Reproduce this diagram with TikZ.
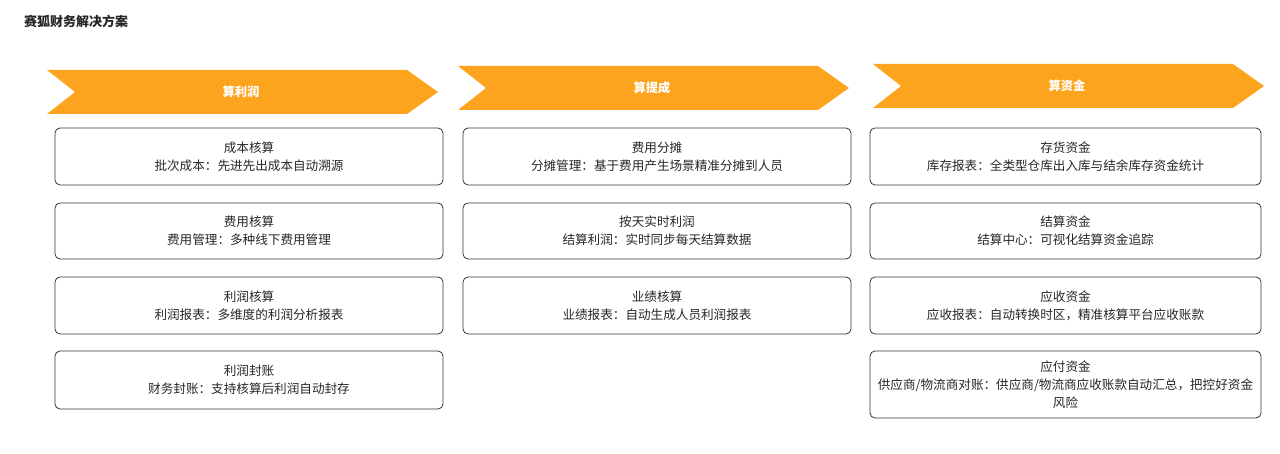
\documentclass[tikz,border=0pt]{standalone}
\usepackage{fontspec}
\setmainfont{Noto Sans CJK SC}
\begin{document}
\begin{tikzpicture}[x=1pt,y=-1pt,
  chev/.style={fill=chevorange,draw=none},
  chevtext/.style={text=white,font=\fontsize{12.3}{14}\selectfont\bfseries},
  card/.style={draw=black!80,line width=0.8pt,rounded corners=5pt},
  cardtext/.style={align=center,font=\fontsize{12.6}{18}\selectfont,text=black!85}]
\definecolor{chevorange}{HTML}{FDA41E}
\useasboundingbox (0,0) rectangle (1280,454);
\node[anchor=west,font=\fontsize{13}{15}\selectfont\bfseries,text=black!85,inner sep=0pt] (title) at (24,21) {赛狐财务解决方案};
% chevrons
\foreach \n/\x/\y/\t in {c1/47/70/算利润, c2/458/66/算提成, c3/873/64/算资金}{
  \fill[chev] (\x,\y) -- (\x+360,\y) -- (\x+391,\y+22) -- (\x+360,\y+44) -- (\x,\y+44) -- (\x+28,\y+22) -- cycle;
  \node[chevtext] (\n) at (\x+194,\y+22) {\t};
}
% cards column 1
\draw[card] (55,128) rectangle (443,185);
\node[cardtext] (a1) at (249,156.5) {成本核算\\批次成本：先进先出成本自动溯源};
\draw[card] (55,203) rectangle (443,259);
\node[cardtext] (a2) at (249,231) {费用核算\\费用管理：多种线下费用管理};
\draw[card] (55,277) rectangle (443,334);
\node[cardtext] (a3) at (249,305.5) {利润核算\\利润报表：多维度的利润分析报表};
\draw[card] (55,351) rectangle (443,409);
\node[cardtext] (a4) at (249,380) {利润封账\\财务封账：支持核算后利润自动封存};
% column 2
\draw[card] (463,128) rectangle (851,185);
\node[cardtext] (b1) at (657,156.5) {费用分摊\\分摊管理：基于费用产生场景精准分摊到人员};
\draw[card] (463,203) rectangle (851,259);
\node[cardtext] (b2) at (657,231) {按天实时利润\\结算利润：实时同步每天结算数据};
\draw[card] (463,277) rectangle (851,334);
\node[cardtext] (b3) at (657,305.5) {业绩核算\\业绩报表：自动生成人员利润报表};
% column 3
\draw[card] (870,128) rectangle (1261,185);
\node[cardtext] (d1) at (1065.5,156.5) {存货资金\\库存报表：全类型仓库出入库与结余库存资金统计};
\draw[card] (870,203) rectangle (1261,259);
\node[cardtext] (d2) at (1065.5,231) {结算资金\\结算中心：可视化结算资金追踪};
\draw[card] (870,277) rectangle (1261,334);
\node[cardtext] (d3) at (1065.5,305.5) {应收资金\\应收报表：自动转换时区，精准核算平台应收账款};
\draw[card] (870,351) rectangle (1261,418);
\node[cardtext] (d4) at (1065.5,384.5) {应付资金\\供应商/物流商对账：供应商/物流商应收账款自动汇总，把控好资金\\风险};
\end{tikzpicture}
\end{document}
